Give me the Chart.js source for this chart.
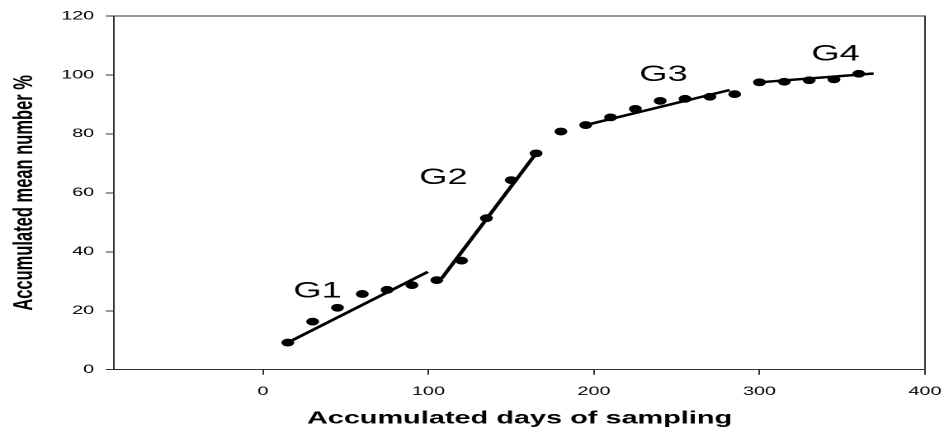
<!DOCTYPE html>
<html lang="en">
<head>
<meta charset="UTF-8">
<title>Accumulated mean number %</title>
<script src="https://cdn.jsdelivr.net/npm/chart.js"></script>
<style>
    html, body { margin: 0; padding: 0; background: #fff; overflow: hidden; }
    /* the source figure is stretched sideways, so draw narrow and stretch */
    #wrap { width: 572px; height: 432px; transform: scaleX(1.6503); transform-origin: 0 0; }
</style>
</head>
<body>
<div id="wrap"><canvas id="chart" width="572" height="432"></canvas></div>
<script>
// sampling days and accumulated mean number (%)
const days = [15, 30, 45, 60, 75, 90, 105, 120, 135, 150, 165, 180,
              195, 210, 225, 240, 255, 270, 285, 300, 315, 330, 345, 360];
const meanPct = [9.2, 16.3, 21.0, 25.7, 27.1, 28.7, 30.4, 37.0, 51.4, 64.3, 73.4, 80.8,
                 83.0, 85.6, 88.5, 91.2, 91.9, 92.6, 93.5, 97.5, 97.7, 98.2, 98.5, 100.4];

// fitted lines for each group (start, end)
const g1X = [15, 99.6],  g1Y = [9.2, 33.2];
const g2X = [108, 165],  g2Y = [31.0, 73.4];
const g3X = [195, 282],  g3Y = [83.0, 94.9];
const g4X = [300, 369],  g4Y = [97.5, 100.5];

const xTicks = [0, 100, 200, 300, 400];
const yTicks = [0, 20, 40, 60, 80, 100, 120];

const groupNames = ['G1', 'G2', 'G3', 'G4'];
const groupAtX = [33, 109, 242, 346];
const groupAtY = [26.5, 65, 100, 107];

function toPoints(xs, ys) {
    return xs.map((x, i) => ({ x: x, y: ys[i] }));
}

function trend(xs, ys) {
    return {
        data: toPoints(xs, ys),
        showLine: true,
        borderColor: '#000',
        borderWidth: 2.5,
        pointRadius: 0,
        fill: false
    };
}

const FONT = "'Liberation Sans', Arial, sans-serif";

// top and right edges of the box
const frame = {
    id: 'frame',
    afterDraw(chart) {
        const { ctx, chartArea: a } = chart;
        ctx.save();
        ctx.strokeStyle = '#333';
        ctx.lineWidth = 1;
        ctx.beginPath();
        ctx.moveTo(a.left, a.top);
        ctx.lineTo(a.right, a.top);
        ctx.lineTo(a.right, a.bottom);
        ctx.stroke();
        ctx.restore();
    }
};

const groupText = {
    id: 'groupText',
    afterDatasetsDraw(chart) {
        const { ctx, scales } = chart;
        ctx.save();
        ctx.fillStyle = '#000';
        ctx.font = '22px ' + FONT;
        ctx.textAlign = 'center';
        ctx.textBaseline = 'middle';
        groupNames.forEach((name, i) => {
            ctx.fillText(name, scales.x.getPixelForValue(groupAtX[i]), scales.y.getPixelForValue(groupAtY[i]));
        });
        ctx.restore();
    }
};

new Chart(document.getElementById('chart'), {
    type: 'scatter',
    data: {
        datasets: [
            {
                data: toPoints(days, meanPct),
                backgroundColor: '#000',
                borderWidth: 0,
                pointRadius: 3.9
            },
            trend(g1X, g1Y),
            trend(g2X, g2Y),
            trend(g3X, g3Y),
            trend(g4X, g4Y)
        ]
    },
    options: {
        responsive: false,
        animation: false,
        devicePixelRatio: 2,
        layout: { padding: { top: 16, right: 11.5, left: 0, bottom: 0 } },
        plugins: {
            legend: { display: false },
            tooltip: { enabled: false }
        },
        scales: {
            x: {
                type: 'linear',
                min: -90,
                max: 400,
                afterBuildTicks: s => { s.ticks = xTicks.map(v => ({ value: v })); },
                afterFit: s => { s.height = 62.3; s.paddingLeft = 0; s.paddingRight = 0; },
                grid: { drawOnChartArea: false, drawTicks: true, tickLength: 5, color: '#333' },
                border: { display: true, color: '#333', width: 1 },
                ticks: { color: '#000', padding: 10, font: { family: FONT, size: 12 } },
                title: {
                    display: true,
                    text: 'Accumulated days of sampling',
                    color: '#000',
                    padding: { top: 0, bottom: 3 },
                    font: { family: FONT, size: 17.5, weight: 'bold' }
                }
            },
            y: {
                min: 0,
                max: 120,
                afterBuildTicks: s => { s.ticks = yTicks.map(v => ({ value: v })); },
                afterFit: s => { s.width = 69.1; },
                grid: { drawOnChartArea: false, drawTicks: true, tickLength: 5, color: '#333' },
                border: { display: true, color: '#333', width: 1 },
                ticks: { color: '#000', padding: 7, font: { family: FONT, size: 12 } },
                title: {
                    display: true,
                    text: 'Accumulated mean number %',
                    color: '#000',
                    padding: { top: 5, bottom: 0 },
                    font: { family: FONT, size: 16.5, weight: 'bold' }
                }
            }
        }
    },
    plugins: [frame, groupText]
});
</script>
</body>
</html>
